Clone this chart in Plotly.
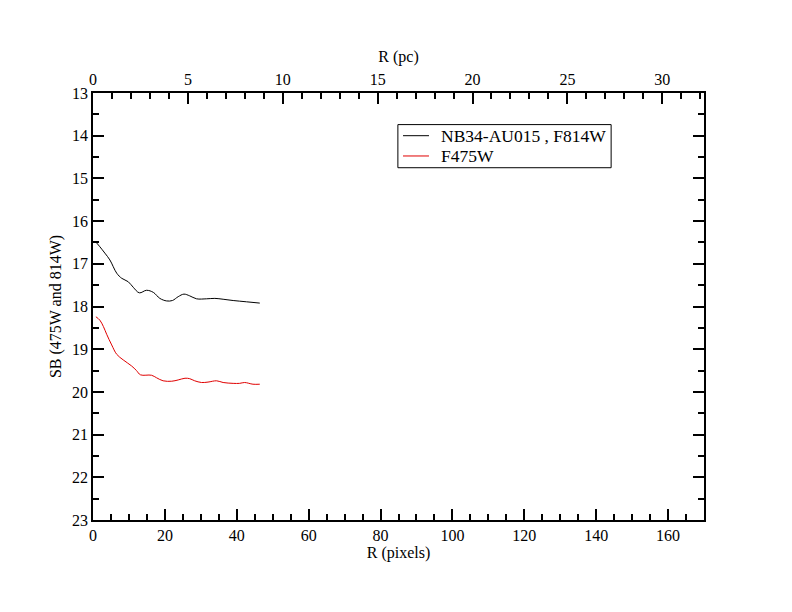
import plotly.graph_objects as go

# surface brightness profiles
r_814 = [1.0, 1.9, 3.3, 4.7, 6.6, 8.0, 9.8, 11.2, 12.9, 14.9, 16.8, 18.6, 20.5,
         22.1, 23.7, 25.3, 26.9, 28.8, 31.6, 33.9, 36.2, 39.0, 42.7, 46.4]
sb_814 = [16.51, 16.60, 16.75, 16.91, 17.22, 17.34, 17.42, 17.55, 17.68, 17.62,
          17.67, 17.81, 17.87, 17.86, 17.77, 17.71, 17.75, 17.82, 17.82, 17.81,
          17.83, 17.86, 17.89, 17.92]

r_475 = [0.8, 1.9, 2.9, 3.8, 5.2, 6.6, 8.4, 10.7, 12.1, 13.2, 16.3, 17.7, 19.5,
         21.9, 23.7, 25.6, 26.9, 28.3, 30.2, 32.0, 34.4, 36.2, 39.0, 40.8, 42.2,
         44.5, 46.4]
sb_475 = [18.24, 18.32, 18.47, 18.65, 18.90, 19.12, 19.25, 19.39, 19.50, 19.60,
          19.61, 19.67, 19.74, 19.75, 19.72, 19.68, 19.69, 19.74, 19.78, 19.77,
          19.74, 19.78, 19.80, 19.80, 19.78, 19.82, 19.82]

series_names = ["NB34-AU015 , F814W", "F475W"]
series_colors = ["black", "#e00000"]

pix_range = [0, 170]
pc_range = [0, 32.2]   # same extent in parsecs for the top axis

font = dict(family="Liberation Serif", size=16, color="black")

fig = go.Figure()
fig.add_trace(go.Scatter(x=r_814, y=sb_814, mode="lines", name=series_names[0],
                         line=dict(color=series_colors[0], width=1, shape="spline")))
fig.add_trace(go.Scatter(x=r_475, y=sb_475, mode="lines", name=series_names[1],
                         line=dict(color=series_colors[1], width=1, shape="spline")))
fig.add_trace(go.Scatter(x=[], y=[], xaxis="x2", showlegend=False, hoverinfo="skip"))

axis_common = dict(showline=True, linecolor="black", linewidth=1.5, showgrid=False,
                   zeroline=False, ticks="inside", ticklen=11, tickwidth=1.5,
                   tickcolor="black", tickfont=font)

# legend box drawn by hand (xmgrace style: tight rows)
shapes = [dict(type="rect", xref="paper", yref="paper", x0=0.499, x1=0.848,
               y0=0.825, y1=0.926, line=dict(color="black", width=1),
               fillcolor="white", layer="above")]
annotations = []
row_y = [0.900, 0.8525]
for name, col, yy in zip(series_names, series_colors, row_y):
    shapes.append(dict(type="line", xref="paper", yref="paper", x0=0.5074, x1=0.5499,
                       y0=yy, y1=yy, line=dict(color=col, width=1), layer="above"))
    annotations.append(dict(text=name, xref="paper", yref="paper", x=0.566, y=yy,
                            xanchor="left", yanchor="middle", showarrow=False,
                            font=dict(family="Liberation Serif", size=17.5, color="black")))

fig.update_layout(
    width=792, height=612,
    margin=dict(l=85, r=96, t=85, b=100),
    paper_bgcolor="white", plot_bgcolor="white",
    font=font,
    xaxis=dict(range=pix_range, dtick=20,
               minor=dict(dtick=5, ticks="inside", ticklen=6, tickcolor="black", tickwidth=1.5),
               title=dict(text="R (pixels)", font=font, standoff=4),
               **axis_common),
    xaxis2=dict(range=pc_range, dtick=5, overlaying="x", side="top", anchor="y",
                minor=dict(dtick=1, ticks="inside", ticklen=6, tickcolor="black", tickwidth=1.5),
                title=dict(text="R (pc)", font=font, standoff=4),
                **axis_common),
    yaxis=dict(range=[23, 13], dtick=1, mirror="ticks",
               minor=dict(dtick=0.5, ticks="inside", ticklen=6, tickcolor="black", tickwidth=1.5),
               title=dict(text="SB (475W and 814W)", font=font, standoff=6),
               **axis_common),
    shapes=shapes,
    annotations=annotations,
    showlegend=False,
)

fig.write_html("out.html")
